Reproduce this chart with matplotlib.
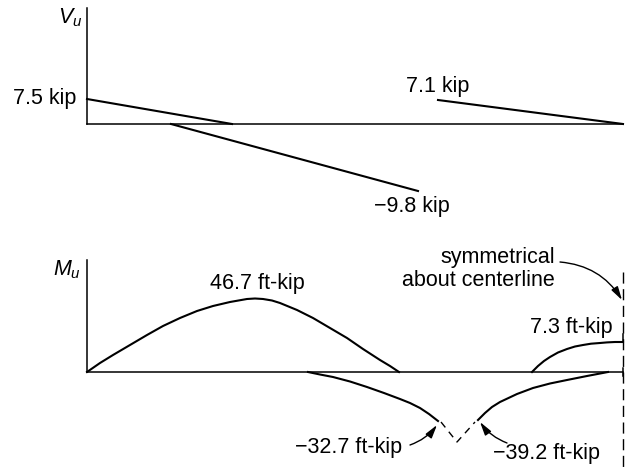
import matplotlib
matplotlib.use("Agg")
import matplotlib.pyplot as plt

plt.rcParams['font.family'] = ['Liberation Sans', 'DejaVu Sans']
plt.rcParams['mathtext.fontset'] = 'custom'
plt.rcParams['mathtext.it'] = 'Liberation Sans:italic'
plt.rcParams['mathtext.rm'] = 'Liberation Sans'

# positions along the half beam (0 = support, 536 = centerline), drawn ordinates
# shear diagram V_u
v1_x = [0, 145]
v1_y = [25, 0]
v2_x = [84, 331]
v2_y = [0, -67]
v3_x = [351, 536]
v3_y = [24, 0]
v_labels = ["7.5 kip", "7.1 kip", "\u22129.8 kip"]

# moment diagram M_u
m1_x = [0, 13, 26, 43, 60, 76, 93, 110, 126, 143, 160, 168, 176, 185, 193,
        210, 226, 243, 260, 276, 293, 303, 312]
m1_y = [0, 9, 17, 27, 37, 46, 54, 61, 66, 70, 73, 73.5, 73, 71.5, 69,
        62, 54, 44, 34, 23, 12, 6, 0]
m2_x = [221, 233, 246, 263, 280, 297, 313, 323, 333, 342, 351]
m2_y = [0, -2.5, -5, -9.5, -15, -21, -27, -31, -36, -42, -49]
m3_x = [391, 398, 405, 413, 430, 446, 463, 480, 500, 521]
m3_y = [-48, -41, -35, -30, -22, -16, -11.5, -8, -4, 0]
m4_x = [445, 451, 457, 463, 471, 480, 488, 496, 504, 513, 520, 528, 536]
m4_y = [0, 6, 11, 15, 19.5, 23, 25.5, 27, 28.3, 29, 29.6, 30, 30]
notch_x = [354, 370, 388]
notch_y = [-50, -70, -50]
m_labels = ["46.7 ft-kip", "7.3 ft-kip", "\u221232.7 ft-kip", "\u221239.2 ft-kip"]

FS = 15.5
LW = 1.5
HEAD = '-|>,head_length=0.8,head_width=0.22'

fig = plt.figure(figsize=(6.26, 4.70), dpi=100)
ax_v = fig.add_axes([0, 0, 1, 1])
ax_m = fig.add_axes([0, 0, 1, 1])
ax_v.set_xlim(-87, 539)
ax_v.set_ylim(-346, 124)
ax_m.set_xlim(-87, 539)
ax_m.set_ylim(-98, 372)
for ax in (ax_v, ax_m):
    ax.axis('off')
    ax.patch.set_alpha(0)

# ---- shear ----
ax_v.plot([0, 0], [0, 116], color='k', lw=1.1)
ax_v.plot([0, 536], [0, 0], color='k', lw=1.1)
ax_v.plot(v1_x, v1_y, color='k', lw=LW)
ax_v.plot(v2_x, v2_y, color='k', lw=LW)
ax_v.plot(v3_x, v3_y, color='k', lw=LW)
ax_v.text(-5, 106, r'$V_u$', fontsize=FS, ha='right', va='center')
ax_v.text(-11, v1_y[0], v_labels[0], fontsize=FS, ha='right', va='center')
ax_v.text(319, 37, v_labels[1], fontsize=FS, ha='left', va='center')
ax_v.text(287, -83, v_labels[2], fontsize=FS, ha='left', va='center')

# ---- moment ----
ax_m.plot([0, 0], [0, 112], color='k', lw=1.1)
ax_m.plot([0, 536], [0, 0], color='k', lw=1.1)
ax_m.plot([536, 536], [-4, 4], color='k', lw=1.1)
for xs, ys in [(m1_x, m1_y), (m2_x, m2_y), (m3_x, m3_y), (m4_x, m4_y)]:
    ax_m.plot(xs, ys, color='k', lw=LW, solid_joinstyle='round')
ax_m.plot([536, 536], [30, 38], color='k', lw=1.1)
ax_m.plot(notch_x, notch_y, color='k', lw=1.0, ls=(0, (5, 4)))
# centerline
ax_m.plot([536, 536], [100, -98], color='k', lw=1.0, ls=(0, (8, 4)))

ax_m.text(-6, 102, r'$M_u$', fontsize=FS, ha='right', va='center')
ax_m.text(170, 89, m_labels[0], fontsize=FS, ha='center', va='center')
ax_m.text(468, 115, "symmetrical", fontsize=FS, ha='right', va='center')
ax_m.text(468, 92, "about centerline", fontsize=FS, ha='right', va='center')
ax_m.annotate("", xy=(535, 72), xytext=(473, 110),
              arrowprops=dict(arrowstyle=HEAD, color='k', lw=1.0,
                              shrinkA=0, shrinkB=0,
                              connectionstyle='arc3,rad=-0.25'))
ax_m.text(526, 45, m_labels[1], fontsize=FS, ha='right', va='center')
ax_m.text(315, -76, m_labels[2], fontsize=FS, ha='right', va='center')
ax_m.annotate("", xy=(350, -53), xytext=(323, -73),
              arrowprops=dict(arrowstyle=HEAD, color='k', lw=1.0,
                              shrinkA=0, shrinkB=0,
                              connectionstyle='arc3,rad=0.15'))
ax_m.text(406, -81, m_labels[3], fontsize=FS, ha='left', va='center')
ax_m.annotate("", xy=(393, -50), xytext=(420, -71),
              arrowprops=dict(arrowstyle=HEAD, color='k', lw=1.0,
                              shrinkA=0, shrinkB=0,
                              connectionstyle='arc3,rad=-0.15'))

fig.savefig("out.png", dpi=100)
